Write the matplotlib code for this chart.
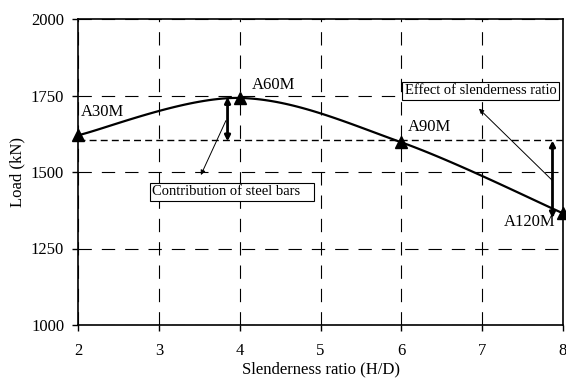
import numpy as np
import matplotlib.pyplot as plt

plt.rcParams['font.family'] = ['Liberation Serif', 'DejaVu Serif']

# data
ratio = [2, 4, 6, 8]
load = [1620, 1742, 1597, 1365]
labels = ['A30M', 'A60M', 'A90M', 'A120M']
label_pos = [(2.03, 1696), (4.15, 1784), (6.08, 1647), (7.27, 1337)]

ref_load = 1605          # dashed reference line
steel_arrow = (3.85, 1745, 1600)
slender_arrow = (7.87, 1603, 1349)

x_ticks = [2, 3, 4, 5, 6, 7, 8]
y_ticks = [1000, 1250, 1500, 1750, 2000]


def smooth(xs, ys, n=40):
    # Catmull-Rom style smoothing like the spreadsheet "smoothed line"
    p = np.column_stack([xs, ys]).astype(float)
    p = np.vstack([p[0], p, p[-1]])
    out = []
    t = np.linspace(0, 1, n)[:, None]
    for i in range(1, len(p) - 2):
        p0, p1, p2, p3 = p[i - 1], p[i], p[i + 1], p[i + 2]
        c1 = p1 + (p2 - p0) / 6
        c2 = p2 - (p3 - p1) / 6
        seg = ((1 - t) ** 3) * p1 + 3 * ((1 - t) ** 2) * t * c1 + 3 * (1 - t) * t ** 2 * c2 + t ** 3 * p2
        out.append(seg)
    out = np.vstack(out)
    return out[:, 0], out[:, 1]


fig = plt.figure(figsize=(5.66, 3.8), dpi=100)
ax = fig.add_axes([78 / 566, 1 - 325 / 380, (563 - 78) / 566, (325 - 19) / 380])

ax.set_xlim(2, 8)
ax.set_ylim(1000, 2000)
ax.set_xticks(x_ticks)
ax.set_yticks(y_ticks)
ax.grid(True, color='black', linestyle=(0, (12, 9)), linewidth=0.8)
ax.tick_params(direction='out', length=4, width=1, labelsize=12, colors='black')
ax.tick_params(axis='x', pad=9)
ax.tick_params(axis='y', pad=6)
for s in ax.spines.values():
    s.set_linewidth(1.2)

ax.axhline(ref_load, color='black', linestyle=(0, (5, 3)), linewidth=1.0)

sx, sy = smooth(ratio, load)
ax.plot(sx, sy, color='black', linewidth=1.6, clip_on=False, zorder=3)
ax.plot(ratio, load, linestyle='none', marker='^', markersize=8, color='black',
        clip_on=False, zorder=4)

for lab, (lx, ly) in zip(labels, label_pos):
    ax.text(lx, ly, lab, fontsize=12, ha='left', va='center')

# contribution of steel bars
x0, ya, yb = steel_arrow
ax.annotate('', xy=(x0, yb), xytext=(x0, ya),
            arrowprops=dict(arrowstyle='<|-|>', color='black', lw=2, mutation_scale=8,
                            shrinkA=0, shrinkB=0))
ax.annotate('', xy=(3.52, 1490), xytext=(3.83, 1668),
            arrowprops=dict(arrowstyle='-|>', color='black', lw=0.7, mutation_scale=7,
                            shrinkA=0, shrinkB=0))
ax.text(2.92, 1435, 'Contribution of steel bars   ', fontsize=10.5, ha='left', va='center',
        bbox=dict(boxstyle='square,pad=0.15', fc='white', ec='black', lw=0.8))

# effect of slenderness ratio
x1, yc, yd = slender_arrow
ax.annotate('', xy=(x1, yd), xytext=(x1, yc),
            arrowprops=dict(arrowstyle='<|-|>', color='black', lw=2, mutation_scale=8,
                            shrinkA=0, shrinkB=0))
ax.annotate('', xy=(6.96, 1707), xytext=(7.87, 1472),
            arrowprops=dict(arrowstyle='-|>', color='black', lw=0.7, mutation_scale=7,
                            shrinkA=0, shrinkB=0))
ax.text(6.04, 1765, 'Effect of slenderness ratio', fontsize=10.5, ha='left', va='center',
        bbox=dict(boxstyle='square,pad=0.15', fc='white', ec='black', lw=0.8))

ax.set_xlabel('Slenderness ratio (H/D)', fontsize=12, labelpad=2)
ax.set_ylabel('Load (kN)', fontsize=12, labelpad=4)

fig.savefig('out.png', dpi=100)
